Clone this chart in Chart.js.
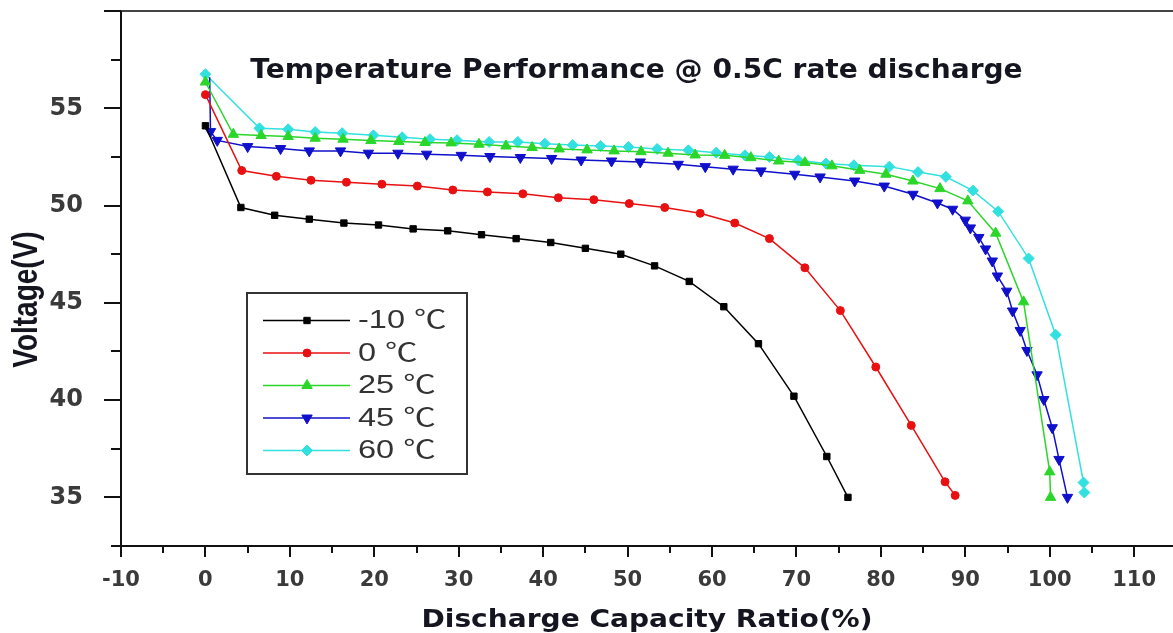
<!DOCTYPE html>
<html>
<head>
<meta charset="utf-8">
<script src="https://cdn.jsdelivr.net/npm/chart.js@4/dist/chart.umd.min.js"></script>
<style>
  html, body { margin: 0; padding: 0; background: #fff; overflow: hidden; }
  #wrap { width: 1173px; height: 633px; position: relative; }
</style>
</head>
<body>
<div id="wrap"><canvas id="myChart"></canvas></div>
<script>
// discharge capacity ratio (%) and voltage (V) for each temperature
const xM10 = [0, 4.2, 8.2, 12.3, 16.4, 20.5, 24.6, 28.7, 32.7, 36.8, 40.9, 45.0, 49.2, 53.2, 57.3, 61.4, 65.5, 69.7, 73.6, 76.1];
const vM10 = [54.1, 49.9, 49.5, 49.3, 49.1, 49.0, 48.8, 48.7, 48.5, 48.3, 48.1, 47.8, 47.5, 46.9, 46.1, 44.8, 42.9, 40.2, 37.1, 35.0];

const x0 = [0, 4.3, 8.4, 12.5, 16.7, 20.9, 25.1, 29.3, 33.4, 37.6, 41.8, 46.0, 50.2, 54.4, 58.6, 62.7, 66.8, 71.0, 75.2, 79.4, 83.6, 87.6, 88.8];
const v0 = [55.7, 51.8, 51.5, 51.3, 51.2, 51.1, 51.0, 50.8, 50.7, 50.6, 50.4, 50.3, 50.1, 49.9, 49.6, 49.1, 48.3, 46.8, 44.6, 41.7, 38.7, 35.8, 35.1];

const x25 = [0, 3.3, 6.6, 9.8, 13.0, 16.3, 19.6, 22.9, 26.0, 29.1, 32.4, 35.6, 38.7, 41.9, 45.2, 48.4, 51.6, 54.8, 58.0, 61.5, 64.6, 67.9, 71.0, 74.2, 77.5, 80.6, 83.8, 87.0, 90.3, 93.6, 96.9, 100.0, 100.1];
const v25 = [56.35, 53.66, 53.6, 53.55, 53.46, 53.41, 53.34, 53.29, 53.24, 53.22, 53.15, 53.06, 52.98, 52.91, 52.86, 52.81, 52.77, 52.69, 52.6, 52.58, 52.46, 52.29, 52.21, 52.04, 51.81, 51.61, 51.26, 50.87, 50.24, 48.58, 45.05, 36.31, 35.0];

const x45 = [0.5, 0.6, 1.4, 5.0, 8.9, 12.3, 16.0, 19.3, 22.8, 26.2, 30.3, 33.7, 37.3, 41.0, 44.5, 48.1, 51.5, 56.0, 59.2, 62.5, 65.8, 69.8, 72.8, 76.9, 80.4, 83.8, 86.7, 88.5, 90.0, 90.6, 91.6, 92.4, 93.2, 93.8, 94.9, 95.6, 96.5, 97.3, 98.5, 99.3, 100.3, 101.1, 102.1];
const v45 = [56.6, 53.8, 53.35, 53.03, 52.93, 52.81, 52.81, 52.69, 52.69, 52.64, 52.58, 52.52, 52.47, 52.42, 52.34, 52.29, 52.24, 52.12, 52.0, 51.87, 51.78, 51.61, 51.47, 51.26, 51.0, 50.58, 50.13, 49.81, 49.25, 48.85, 48.36, 47.77, 47.15, 46.38, 45.6, 44.58, 43.58, 42.55, 41.3, 40.03, 38.58, 36.95, 35.0];

const x60 = [0, 6.4, 9.8, 13.0, 16.2, 19.9, 23.3, 26.6, 29.8, 33.6, 37.0, 40.2, 43.5, 46.8, 50.1, 53.5, 57.2, 60.5, 63.9, 66.8, 70.2, 73.5, 76.8, 81.0, 84.4, 87.7, 90.9, 93.9, 97.5, 100.7, 104.0, 104.1];
const v60 = [56.75, 53.97, 53.92, 53.78, 53.72, 53.61, 53.51, 53.41, 53.36, 53.27, 53.27, 53.18, 53.11, 53.06, 53.01, 52.91, 52.84, 52.72, 52.58, 52.5, 52.33, 52.16, 52.07, 52.0, 51.72, 51.48, 50.77, 49.7, 47.28, 43.36, 35.76, 35.25];

const seriesNames = ['-10 \u2103', '0 \u2103', '25 \u2103', '45 \u2103', '60 \u2103'];

// axis ticks
const xTickLabels = [-10, 0, 10, 20, 30, 40, 50, 60, 70, 80, 90, 100, 110];
const xMinorTicks = [-5, 5, 15, 25, 35, 45, 55, 65, 75, 85, 95, 105];
const yTickLabels = [35, 40, 45, 50, 55];
const yMajorTicks = [35, 40, 45, 50, 55, 60];
const yMinorTicks = [32.5, 37.5, 42.5, 47.5, 52.5, 57.5];

const chartTitle = 'Temperature Performance @ 0.5C rate discharge';
const xTitle = 'Discharge Capacity Ratio(%)';
const yTitle = 'Voltage(V)';

function pts(xs, vs) {
	return xs.map((x, i) => ({ x: x, y: vs[i] }));
}

const styles = [
	{ color: '#000000', pointStyle: 'rect', radius: 4.5, rotation: 0 },
	{ color: '#e81010', pointStyle: 'circle', radius: 4, rotation: 0 },
	{ color: '#2ad62a', pointStyle: 'triangle', radius: 6, rotation: 0 },
	{ color: '#1010cc', pointStyle: 'triangle', radius: 6, rotation: 180 },
	{ color: '#33e0e0', pointStyle: 'rectRot', radius: 5.5, rotation: 0 }
];

const allData = [pts(xM10, vM10), pts(x0, v0), pts(x25, v25), pts(x45, v45), pts(x60, v60)];

const datasets = allData.map((d, i) => ({
	label: seriesNames[i],
	data: d,
	borderColor: styles[i].color,
	backgroundColor: styles[i].color,
	borderWidth: 1.5,
	pointStyle: styles[i].pointStyle,
	pointRotation: styles[i].rotation,
	pointRadius: (i === 3) ? (c => c.dataIndex === 0 ? 0 : styles[i].radius) : styles[i].radius,
	pointBorderWidth: 1,
	pointBorderColor: styles[i].color,
	pointBackgroundColor: styles[i].color,
	tension: 0
}));

// no extra room round the plot, the axes sit where the reference has them
function noPad(s) {
	s.paddingTop = 0;
	s.paddingBottom = 0;
	s.paddingLeft = 0;
	s.paddingRight = 0;
}

// text in the source image is stretched sideways, so widen it a bit
function wideText(ctx, text, x, y, sx) {
	ctx.save();
	ctx.translate(x, y);
	ctx.scale(sx, 1);
	ctx.fillText(text, 0, 0);
	ctx.restore();
}

const frameAndText = {
	id: 'frameAndText',
	afterDraw(chart) {
		const ctx = chart.ctx;
		const area = chart.chartArea;
		const xs = chart.scales.x;
		const ys = chart.scales.y;
		ctx.save();

		// top frame
		ctx.strokeStyle = '#444';
		ctx.lineWidth = 2;
		ctx.beginPath();
		ctx.moveTo(area.left, area.top);
		ctx.lineTo(area.right, area.top);
		ctx.stroke();

		// axes
		ctx.strokeStyle = '#111';
		ctx.beginPath();
		ctx.moveTo(area.left, area.top);
		ctx.lineTo(area.left, area.bottom);
		ctx.moveTo(area.left, area.bottom);
		ctx.lineTo(area.right, area.bottom);
		ctx.stroke();

		// tick marks
		ctx.beginPath();
		yMajorTicks.forEach(v => {
			const p = Math.round(ys.getPixelForValue(v));
			ctx.moveTo(area.left - 17, p);
			ctx.lineTo(area.left, p);
		});
		yMinorTicks.forEach(v => {
			const p = Math.round(ys.getPixelForValue(v));
			ctx.moveTo(area.left - 10, p);
			ctx.lineTo(area.left, p);
		});
		xTickLabels.forEach(v => {
			const p = Math.round(xs.getPixelForValue(v));
			ctx.moveTo(p, area.bottom);
			ctx.lineTo(p, area.bottom + 11);
		});
		xMinorTicks.forEach(v => {
			const p = Math.round(xs.getPixelForValue(v));
			ctx.moveTo(p, area.bottom);
			ctx.lineTo(p, area.bottom + 7);
		});
		ctx.stroke();

		// chart title inside plot
		ctx.fillStyle = '#151520';
		ctx.font = 'bold 26px "DejaVu Sans"';
		ctx.textAlign = 'center';
		ctx.textBaseline = 'alphabetic';
		wideText(ctx, chartTitle, area.left + (area.right - area.left) * 0.49, area.top + 67, 1.08);

		// x axis title
		ctx.font = 'bold 24px "DejaVu Sans"';
		wideText(ctx, xTitle, (area.left + area.right) / 2, area.bottom + 81, 1.17);

		// y axis title
		ctx.save();
		ctx.translate(37, (area.top + area.bottom) / 2 + 21);
		ctx.rotate(-Math.PI / 2);
		ctx.scale(1, 1.25);
		ctx.font = 'bold 28px "Liberation Sans"';
		ctx.fillText(yTitle, 0, 0);
		ctx.restore();

		// legend
		const lx = area.left + 126;
		const ly = area.top + 282;
		ctx.strokeStyle = '#333';
		ctx.lineWidth = 2;
		ctx.strokeRect(lx, ly, 220, 181);
		ctx.font = '25px "Liberation Sans", "Noto Sans CJK SC"';
		ctx.textAlign = 'left';
		ctx.textBaseline = 'middle';
		chart.data.datasets.forEach((ds, i) => {
			const ry = ly + 27.5 + i * 32.5;
			ctx.strokeStyle = ds.borderColor;
			ctx.fillStyle = ds.borderColor;
			ctx.lineWidth = 1.5;
			ctx.beginPath();
			ctx.moveTo(lx + 16, ry);
			ctx.lineTo(lx + 103, ry);
			ctx.stroke();
			if (Chart.helpers && Chart.helpers.drawPoint) {
				ctx.lineWidth = 1;
				Chart.helpers.drawPoint(ctx, {
					pointStyle: styles[i].pointStyle,
					rotation: styles[i].rotation,
					radius: styles[i].radius,
					borderWidth: 1
				}, lx + 60, ry);
			}
			ctx.fillStyle = '#333';
			wideText(ctx, ds.label, lx + 111, ry + 1, 1.3);
		});

		ctx.restore();
	}
};

const config = {
	type: 'line',
	data: { datasets: datasets },
	options: {
		responsive: true,
		maintainAspectRatio: false,
		animation: false,
		layout: { autoPadding: false, padding: { top: 11, right: 0, bottom: 0, left: 0 } },
		plugins: {
			legend: { display: false },
			tooltip: { enabled: false },
			title: { display: false }
		},
		scales: {
			x: {
				type: 'linear',
				min: -10,
				max: 114.6,
				grid: { display: false },
				border: { display: false },
				afterBuildTicks: s => { s.ticks = xTickLabels.map(v => ({ value: v })); },
				afterFit: s => { s.height = 87; noPad(s); },
				ticks: {
					padding: 14,
					color: '#3a3a3a',
					font: { family: 'DejaVu Sans', weight: 'bold', size: 21 },
					maxRotation: 0
				}
			},
			y: {
				type: 'linear',
				min: 32.5,
				max: 60,
				grid: { display: false },
				border: { display: false },
				afterBuildTicks: s => { s.ticks = yTickLabels.map(v => ({ value: v })); },
				afterFit: s => { s.width = 121; noPad(s); },
				ticks: {
					padding: 30,
					color: '#3a3a3a',
					font: { family: 'DejaVu Sans', weight: 'bold', size: 24 }
				}
			}
		}
	},
	plugins: [frameAndText]
};

var myChart = new Chart(document.getElementById('myChart'), config);
</script>
</body>
</html>
